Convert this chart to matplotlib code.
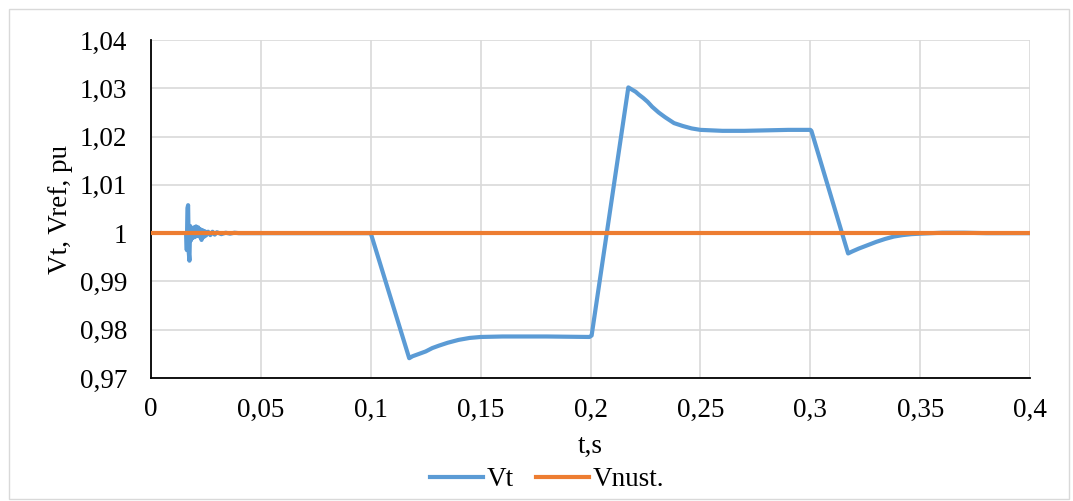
import numpy as np
import matplotlib
matplotlib.use("Agg")
import matplotlib.pyplot as plt
from matplotlib.patches import Rectangle

# ---------------- data ----------------
t_vt = [0.0160, 0.0163, 0.0166, 0.0169, 0.0172, 0.0175, 0.0178, 0.0182, 0.0186, 0.0190,
        0.0195, 0.0200, 0.0205, 0.0210, 0.0215, 0.0220, 0.0225, 0.0230, 0.0235, 0.0240,
        0.0245, 0.0250, 0.0260, 0.0270, 0.0280, 0.0290, 0.0300, 0.0320, 0.0340, 0.0360,
        0.0380, 0.0400, 0.05, 0.08, 0.1,
        0.1175, 0.119, 0.122, 0.125, 0.128, 0.131, 0.135, 0.14, 0.145, 0.15, 0.16, 0.18, 0.1995,
        0.2005, 0.2172, 0.219, 0.2205, 0.222, 0.224, 0.226, 0.228, 0.231, 0.234, 0.238, 0.242,
        0.246, 0.25, 0.26, 0.27, 0.28, 0.29, 0.3,
        0.3005, 0.3172, 0.319, 0.322, 0.326, 0.330, 0.334, 0.338, 0.342, 0.346, 0.35, 0.36,
        0.37, 0.38, 0.4]
v_vt = [1.0, 0.9965, 1.0052, 1.0058, 0.9960, 0.9943, 1.0015, 0.9985, 1.0010, 0.9990,
        1.0012, 0.9992, 1.0014, 0.9995, 1.0012, 0.9993, 1.0008, 0.9986, 1.0006, 0.9992,
        1.0004, 0.9995, 1.0003, 0.9996, 1.0003, 0.9997, 1.0002, 0.9998, 1.0001, 0.9999,
        1.0001, 1.0, 1.0, 1.0, 1.0,
        0.9741, 0.9745, 0.9750, 0.9755, 0.9762, 0.9767, 0.9773, 0.9779, 0.9783, 0.9785, 0.9786, 0.9786, 0.9785,
        0.9788, 1.0302, 1.0297, 1.0293, 1.0287, 1.0280, 1.0272, 1.0262, 1.0250, 1.0240, 1.0228, 1.0222,
        1.0217, 1.0214, 1.0212, 1.0212, 1.0213, 1.0214, 1.0214,
        1.0212, 0.9958, 0.9962, 0.9968, 0.9975, 0.9982, 0.9988, 0.9993, 0.9996, 0.9998, 0.9999, 1.0001,
        1.0001, 1.0, 1.0]

t_ref = [0.0, 0.4]
v_ref = [1.0, 1.0]

x_ticks = [0, 0.05, 0.1, 0.15, 0.2, 0.25, 0.3, 0.35, 0.4]
y_ticks = [0.97, 0.98, 0.99, 1.0, 1.01, 1.02, 1.03, 1.04]

def comma(v):
    s = ("%.2f" % v).rstrip("0").rstrip(".")
    return s.replace(".", ",")

# ---------------- figure ----------------
plt.rcParams['font.family'] = ['Liberation Serif', 'DejaVu Serif']
fs = 19.5

fig = plt.figure(figsize=(10.73, 5.01), dpi=100)
fig.patches.append(Rectangle((0.008, 0.004), 0.988, 0.978, transform=fig.transFigure,
                             fill=False, edgecolor='#D9D9D9', linewidth=1))
ax = fig.add_axes([0.1407, 0.2455, 0.8193, 0.6745])

ax.plot(t_vt, v_vt, color='#5B9BD5', linewidth=3.0, label='Vt', zorder=3)
ax.plot(t_ref, v_ref, color='#ED7D31', linewidth=3.0, label='Vnust.', zorder=4)

ax.set_xlim(0, 0.4)
ax.set_ylim(0.97, 1.04)
ax.set_xticks(x_ticks)
ax.set_yticks(y_ticks)
ax.set_xticklabels([comma(v) for v in x_ticks])
ax.set_yticklabels([comma(v) for v in y_ticks])
ax.grid(True, color='#D9D9D9', linewidth=1.2)
ax.set_axisbelow(True)
for s in ['top', 'right']:
    ax.spines[s].set_visible(False)
for s in ['left', 'bottom']:
    ax.spines[s].set_color('black')
    ax.spines[s].set_linewidth(1.3)
ax.tick_params(axis='x', length=0, pad=14, labelsize=fs)
ax.tick_params(axis='y', length=0, pad=17, labelsize=fs)

ax.set_xlabel('t,s', fontsize=fs, labelpad=8)
ax.set_ylabel('Vt, Vref, pu', fontsize=fs, labelpad=5)

fig.legend(loc='center', ncol=2, frameon=False, fontsize=fs,
           bbox_to_anchor=(0.51, 0.042), handlelength=1.95, handletextpad=0.15,
           columnspacing=0.8, borderpad=0)

fig.savefig('out.png', dpi=100)
